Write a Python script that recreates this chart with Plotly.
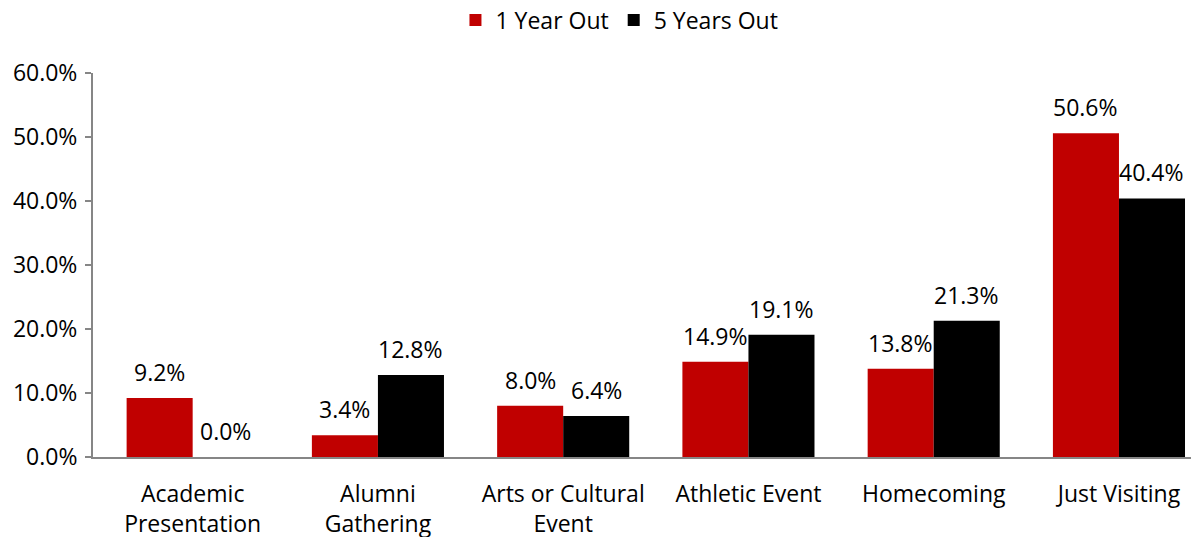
import plotly.graph_objects as go

categories = ["Academic<br>Presentation", "Alumni<br>Gathering", "Arts or Cultural<br>Event",
              "Athletic Event", "Homecoming", "Just Visiting"]
one_year = [0.092, 0.034, 0.080, 0.149, 0.138, 0.506]
five_years = [0.000, 0.128, 0.064, 0.191, 0.213, 0.404]
series_names = ["1 Year Out", "5 Years Out"]
colors = ["#C00000", "#000000"]

FONT = "Open Sans, Lato, sans-serif"
FS = 23
W, H = 1191, 529
ML, MR, MT, MB = 85, 0, 65, 80
XRANGE = [-0.538, 5.432]
BARGAP = 0.287

fig = go.Figure()
for name, vals, col in zip(series_names, [one_year, five_years], colors):
    fig.add_trace(go.Bar(
        x=categories, y=vals, name=name, marker=dict(color=col, line=dict(width=0)),
    ))

# data labels, offset to sit over each bar of the group
px_per_cat = (W - ML - MR) / (XRANGE[1] - XRANGE[0])
bar_px = px_per_cat * (1 - BARGAP) / 2
for k, vals in enumerate([one_year, five_years]):
    shift = (k - 0.5) * bar_px
    for c, v in zip(categories, vals):
        fig.add_annotation(x=c, y=v, text=f"{v*100:.1f}%", showarrow=False,
                           xshift=shift, yanchor="bottom", yshift=8,
                           font=dict(size=FS, color="#000000", family=FONT))

fig.update_layout(
    width=W, height=H,
    margin=dict(l=ML, r=MR, t=MT, b=MB, autoexpand=False),
    paper_bgcolor="white", plot_bgcolor="white",
    barmode="group", bargap=BARGAP, bargroupgap=0,
    font=dict(family=FONT, size=FS, color="#000000"),
    legend=dict(orientation="h", x=0.476, xanchor="center", y=0.977, yref="container",
                yanchor="middle", font=dict(size=FS), traceorder="normal"),
    showlegend=True,
)
fig.update_yaxes(range=[0, 0.6], dtick=0.1, tickformat=".1%", showgrid=False,
                 showline=True, linecolor="#868686", linewidth=2, ticks="outside",
                 ticklen=6, tickcolor="#868686", tickwidth=2, zeroline=False,
                 ticklabelstandoff=3, automargin=False)
fig.update_xaxes(range=XRANGE, showline=True, linecolor="#868686", linewidth=2,
                 ticks="", showgrid=False, automargin=False, ticklabelstandoff=15)

fig.write_html("out.html")
